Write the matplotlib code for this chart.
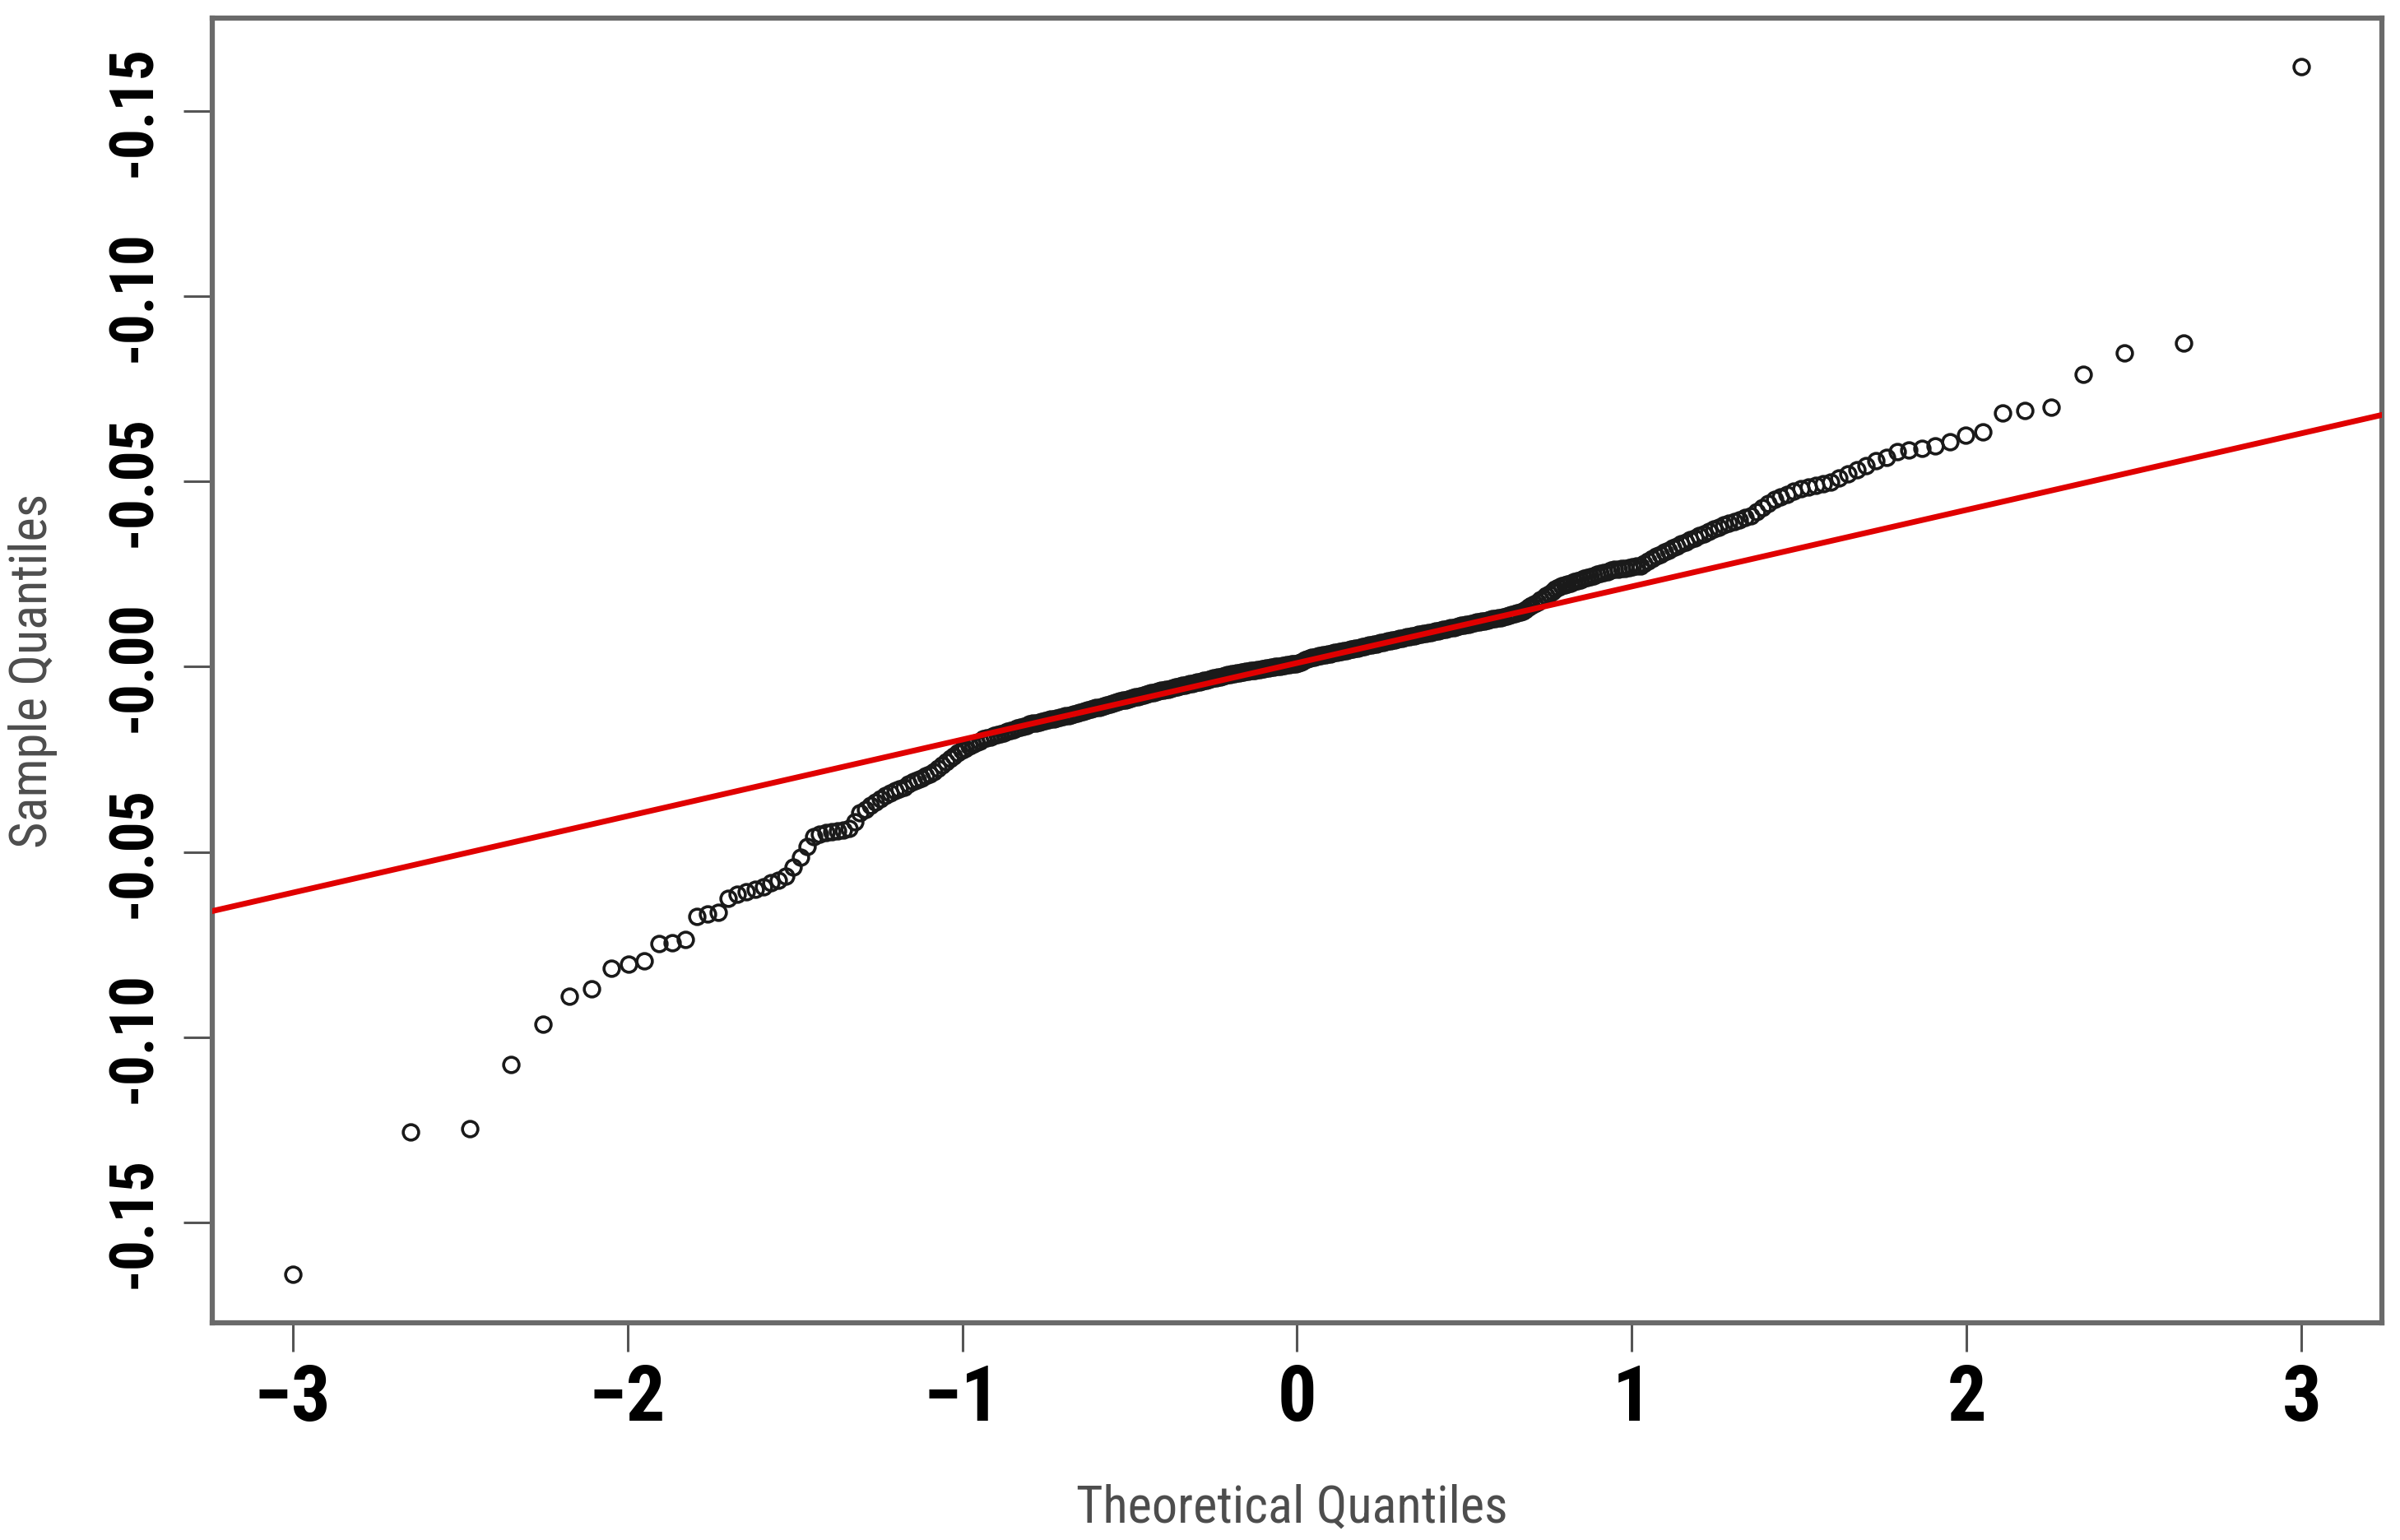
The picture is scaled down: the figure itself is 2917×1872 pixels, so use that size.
import matplotlib
matplotlib.use('Agg')
import matplotlib.pyplot as plt
import numpy as np
from statistics import NormalDist

# sorted sample quantiles (rank 1 .. 370)
sample = [
    -0.1640, -0.1255, -0.1246, -0.1073, -0.0965, -0.0889, -0.0870, -0.0814, -0.0802, -0.0793,
    -0.0746, -0.0744, -0.0737, -0.0673, -0.0666, -0.0662, -0.0625, -0.0614, -0.0607, -0.0600,
    -0.0593, -0.0583, -0.0575, -0.0565, -0.0541, -0.0515, -0.0485, -0.0458, -0.0452, -0.0448,
    -0.0446, -0.0443, -0.0440, -0.0437, -0.0418, -0.0395, -0.0385, -0.0375, -0.0366, -0.0357,
    -0.0348, -0.0340, -0.0335, -0.0330, -0.0325, -0.0316, -0.0310, -0.0305, -0.0300, -0.0295,
    -0.0290, -0.0282, -0.0274, -0.0265, -0.0257, -0.0248, -0.0240, -0.0232, -0.0225, -0.0220,
    -0.0215, -0.0210, -0.0205, -0.0200, -0.0195, -0.0192, -0.0189, -0.0186, -0.0183, -0.0180,
    -0.0178, -0.0175, -0.0172, -0.0169, -0.0166, -0.0163, -0.0161, -0.0158, -0.0155, -0.0153,
    -0.0151, -0.0149, -0.0147, -0.0146, -0.0144, -0.0142, -0.0140, -0.0139, -0.0137, -0.0135,
    -0.0133, -0.0132, -0.0130, -0.0127, -0.0125, -0.0123, -0.0121, -0.0119, -0.0117, -0.0115,
    -0.0113, -0.0111, -0.0109, -0.0107, -0.0105, -0.0103, -0.0101, -0.0099, -0.0097, -0.0095,
    -0.0093, -0.0091, -0.0089, -0.0088, -0.0086, -0.0084, -0.0082, -0.0080, -0.0078, -0.0076,
    -0.0074, -0.0072, -0.0070, -0.0069, -0.0067, -0.0066, -0.0064, -0.0063, -0.0061, -0.0060,
    -0.0058, -0.0057, -0.0055, -0.0054, -0.0052, -0.0051, -0.0049, -0.0048, -0.0046, -0.0045,
    -0.0043, -0.0042, -0.0040, -0.0039, -0.0037, -0.0036, -0.0034, -0.0033, -0.0031, -0.0030,
    -0.0028, -0.0027, -0.0025, -0.0024, -0.0022, -0.0020, -0.0019, -0.0018, -0.0017, -0.0016,
    -0.0015, -0.0014, -0.0013, -0.0012, -0.0011, -0.0010, -0.0009, -0.0008, -0.0007, -0.0006,
    -0.0005, -0.0004, -0.0003, -0.0002, -0.0001, 0.0000, 0.0001, 0.0002, 0.0003, 0.0004,
    0.0005, 0.0006, 0.0007, 0.0007, 0.0008, 0.0010, 0.0013, 0.0015, 0.0018, 0.0020,
    0.0023, 0.0025, 0.0026, 0.0028, 0.0029, 0.0030, 0.0032, 0.0033, 0.0034, 0.0035,
    0.0037, 0.0038, 0.0039, 0.0041, 0.0042, 0.0043, 0.0044, 0.0046, 0.0047, 0.0048,
    0.0049, 0.0051, 0.0052, 0.0054, 0.0055, 0.0056, 0.0058, 0.0059, 0.0061, 0.0062,
    0.0063, 0.0065, 0.0066, 0.0068, 0.0069, 0.0070, 0.0072, 0.0073, 0.0075, 0.0076,
    0.0077, 0.0079, 0.0080, 0.0081, 0.0083, 0.0084, 0.0085, 0.0087, 0.0088, 0.0089,
    0.0091, 0.0092, 0.0093, 0.0095, 0.0096, 0.0097, 0.0099, 0.0100, 0.0101, 0.0103,
    0.0105, 0.0106, 0.0108, 0.0109, 0.0111, 0.0112, 0.0114, 0.0115, 0.0117, 0.0118,
    0.0120, 0.0121, 0.0123, 0.0124, 0.0126, 0.0127, 0.0129, 0.0130, 0.0132, 0.0133,
    0.0135, 0.0137, 0.0139, 0.0141, 0.0143, 0.0145, 0.0148, 0.0150, 0.0155, 0.0160,
    0.0165, 0.0170, 0.0175, 0.0180, 0.0185, 0.0191, 0.0197, 0.0203, 0.0209, 0.0215,
    0.0218, 0.0221, 0.0224, 0.0226, 0.0229, 0.0232, 0.0235, 0.0238, 0.0240, 0.0243,
    0.0246, 0.0249, 0.0252, 0.0254, 0.0257, 0.0260, 0.0262, 0.0263, 0.0265, 0.0266,
    0.0268, 0.0270, 0.0271, 0.0273, 0.0279, 0.0285, 0.0291, 0.0298, 0.0304, 0.0310,
    0.0315, 0.0321, 0.0326, 0.0331, 0.0336, 0.0342, 0.0347, 0.0353, 0.0359, 0.0365,
    0.0371, 0.0377, 0.0382, 0.0387, 0.0392, 0.0397, 0.0402, 0.0407, 0.0418, 0.0429,
    0.0440, 0.0451, 0.0459, 0.0466, 0.0474, 0.0481, 0.0486, 0.0490, 0.0495, 0.0499,
    0.0510, 0.0521, 0.0532, 0.0543, 0.0555, 0.0566, 0.0581, 0.0585, 0.0590, 0.0597,
    0.0608, 0.0624, 0.0633, 0.0685, 0.0692, 0.0701, 0.0790, 0.0848, 0.0874, 0.1620,
]

x_ticks = [-3, -2, -1, 0, 1, 2, 3]
x_tick_labels = ['\u22123', '\u22122', '\u22121', '0', '1', '2', '3']
y_ticks = [-0.15, -0.10, -0.05, 0.00, 0.05, 0.10, 0.15]
# the picture shows a minus sign on every label
y_tick_labels = ['-0.15', '-0.10', '-0.05', '-0.00', '-0.05', '-0.10', '-0.15']

# theoretical quantiles, as R's qqnorm does it (ppoints)
y = np.array(sample)
n = len(y)
nd = NormalDist()
x = np.array([nd.inv_cdf((i + 0.5) / n) for i in range(n)])

# qqline: through the first and third quartiles
yq = np.quantile(y, [0.25, 0.75])
xq = np.array([nd.inv_cdf(0.25), nd.inv_cdf(0.75)])
slope = (yq[1] - yq[0]) / (xq[1] - xq[0])
intercept = yq[0] - slope * xq[0]

narrow = ['Roboto Condensed', 'Liberation Sans', 'DejaVu Sans']

W, H = 2917, 1872
fig = plt.figure(figsize=(W / 100, H / 100), dpi=100)
fig.patch.set_facecolor('white')
ax = fig.add_axes([258 / W, (H - 1608) / H, (2895 - 258) / W, (1608 - 22) / H])

ax.plot(x, y, 'o', mfc='none', mec='#1a1a1a', ms=13.5, mew=2.6, zorder=2)
ax.axline((0, intercept), slope=slope, color='#e00000', lw=5.0, zorder=3)

# R style 4% padding
xr = x.max() - x.min()
yr = y.max() - y.min()
ax.set_xlim(x.min() - 0.04 * xr, x.max() + 0.04 * xr)
ax.set_ylim(y.min() - 0.04 * yr, y.max() + 0.04 * yr)

for s in ax.spines.values():
    s.set_color('#6a6a6a')
    s.set_linewidth(4.5)

ax.set_xticks(x_ticks)
ax.set_xticklabels(x_tick_labels, family=narrow, fontsize=68, fontweight='bold', va='center')
ax.set_yticks(y_ticks)
ax.set_yticklabels(y_tick_labels, family=narrow, fontsize=53, fontweight='bold',
                   rotation=90, va='center', ha='center')
ax.tick_params(axis='both', direction='out', length=25, width=2.2, color='#555555')
ax.tick_params(axis='x', pad=42)
ax.tick_params(axis='y', pad=43)

ax.set_xlabel('Theoretical Quantiles', family=narrow, fontsize=45, color='#4d4d4d', va='center')
ax.set_ylabel('Sample Quantiles', family=narrow, fontsize=45, color='#4d4d4d', va='center')
ax.xaxis.set_label_coords((1570 - 258) / (2895 - 258), (1608 - 1834) / (1608 - 22))
ax.yaxis.set_label_coords((40 - 258) / (2895 - 258), 0.5)

plt.savefig('out.png', dpi=100, facecolor='white')
